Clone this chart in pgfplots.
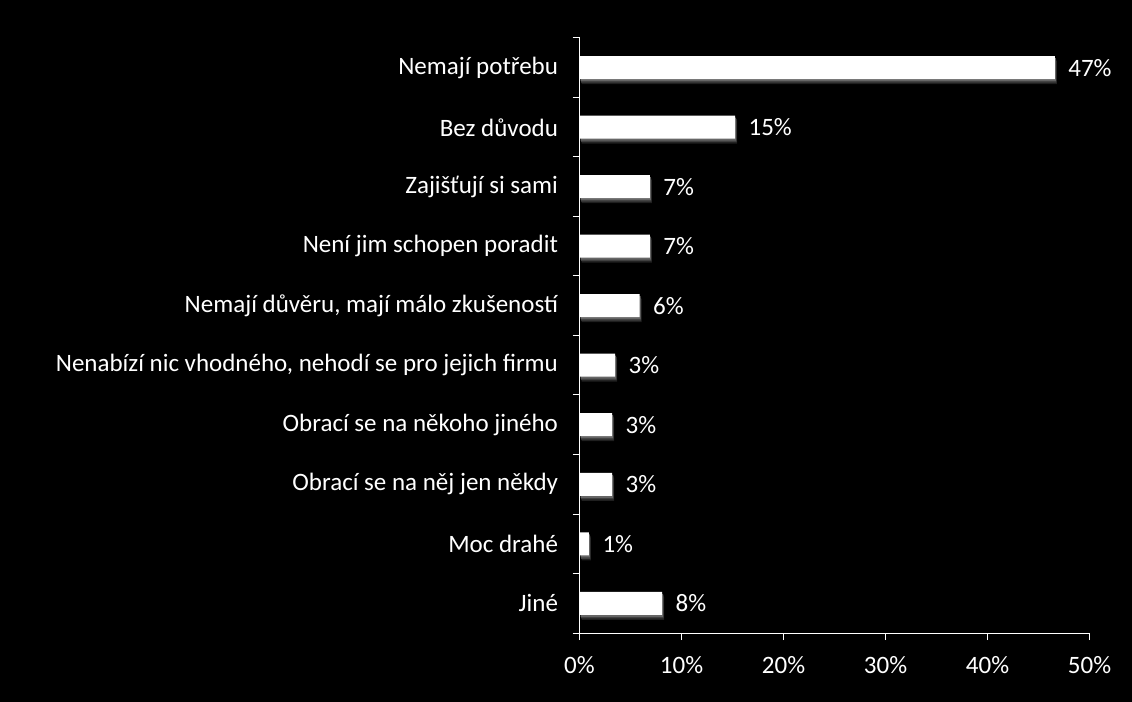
\documentclass[border=0pt]{standalone}
\usepackage{fontspec}
\setmainfont{Carlito}
\usepackage{pgfplots}
\pgfplotsset{compat=1.18}
\usepackage{pgfplotstable}
\pgfplotstableread{
y x lab
0 46.6 47
1 15.25 15
2 6.9 7
3 6.9 7
4 5.9 6
5 3.5 3
6 3.2 3
7 3.2 3
8 0.93 1
9 8.1 8
}\data
\begin{document}
\begin{tikzpicture}[x=1bp,y=1bp]
\fill[black] (0,0) rectangle (1132,702);
\begin{axis}[
  at={(579.5bp,69bp)}, anchor=south west,
  scale only axis, width=510bp, height=595bp,
  xbar, bar width=23bp, bar shift=0pt,
  xmin=0, xmax=50, ymin=-0.5, ymax=9.5,
  y dir=reverse,
  axis lines*=left,
  axis line style={white, line width=1bp},
  every tick/.style={white, line width=1bp},
  tick align=outside,
  xtick={0,10,20,30,40,50},
  xticklabels={0\%,10\%,20\%,30\%,40\%,50\%},
  major tick length=7bp,
  ytick={-0.5,0.5,...,9.5},
  yticklabels={},
  extra y ticks={0,...,9},
  extra y tick labels={Nemají potřebu,Bez důvodu,Zajišťují si sami,Není jim schopen poradit,{Nemají důvěru, mají málo zkušeností},{Nenabízí nic vhodného, nehodí se pro jejich firmu},Obrací se na někoho jiného,Obrací se na něj jen někdy,Moc drahé,Jiné},
  extra y tick style={major tick length=0pt, yticklabel style={anchor=east, xshift=-18bp}},
  xticklabel style={yshift=-13bp},
  tick label style={font=\fontsize{25bp}{28bp}\selectfont, text=white},
  /pgf/number format/assume math mode=true,
  nodes near coords={\pgfplotspointmeta\%},
  point meta=explicit symbolic,
  every node near coord/.append style={font=\fontsize{25bp}{28bp}\selectfont, text=white, anchor=west, xshift=10bp},
]
\addplot[fill=white, draw=none,
  preaction={fill=white!12!black, transform canvas={xshift=2bp,yshift=-5bp}},
  preaction={fill=white!25!black, transform canvas={xshift=1.5bp,yshift=-3.5bp}},
  preaction={fill=white!40!black, transform canvas={xshift=1bp,yshift=-2bp}},
] table[x=x, y=y, meta=lab] {\data};
\end{axis}
\end{tikzpicture}
\end{document}
